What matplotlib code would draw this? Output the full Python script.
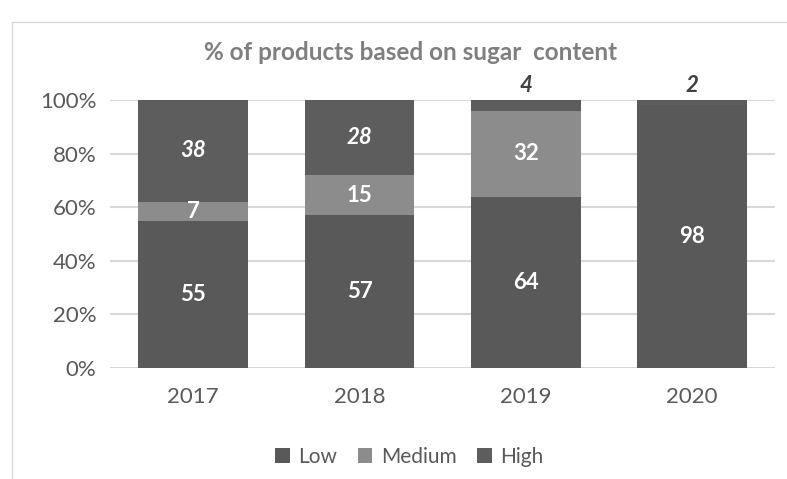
import numpy as np
import matplotlib
matplotlib.use('Agg')
import matplotlib.pyplot as plt
from matplotlib.patches import Rectangle

# ----- Data ------------------------------------------------------------
years = ['2017', '2018', '2019', '2020']
low = [55, 57, 64, 98]
medium = [7, 15, 32, 0]
high = [38, 28, 4, 2]
yticks = [0, 20, 40, 60, 80, 100]

# colours (Excel grey scheme)
c_low = '#595959'
c_med = '#8c8c8c'
c_high = '#5d5d5d'
txt = '#595959'

plt.rcParams['font.family'] = ['Lato', 'DejaVu Sans']

fig = plt.figure(figsize=(7.87, 4.79), dpi=100)
ax = fig.add_axes([0.140, 0.232, 0.845, 0.559])

# light frame round the chart, like the Excel chart area
fig.patches.append(Rectangle((12/787., -0.1), 1.0, 1 - 22/479. + 0.1,
                             transform=fig.transFigure, fill=False,
                             edgecolor='#d9d9d9', linewidth=1.0))

x = np.arange(len(years))
w = 0.66
low_a = np.array(low)
med_a = np.array(medium)
high_a = np.array(high)

ax.bar(x, low_a, w, color=c_low, label='Low', zorder=3)
ax.bar(x, med_a, w, bottom=low_a, color=c_med, label='Medium', zorder=3)
ax.bar(x, high_a, w, bottom=low_a + med_a, color=c_high, label='High', zorder=3)

# labels for each segment
fs = 16
for i in range(len(years)):
    ax.text(x[i], low_a[i]/2., str(low[i]), ha='center', va='center',
            color='white', fontsize=fs, fontweight='bold', zorder=4)
    if medium[i] > 0:
        ax.text(x[i], low_a[i] + med_a[i]/2., str(medium[i]), ha='center',
                va='center', color='white', fontsize=fs, fontweight='bold', zorder=4)
    if high[i] > 10:
        ax.text(x[i], low_a[i] + med_a[i] + high_a[i]/2., str(high[i]),
                ha='center', va='center', color='white', fontsize=fs,
                fontweight='bold', style='italic', zorder=4)
    else:
        ax.text(x[i], 101.5, str(high[i]), ha='center', va='bottom',
                color='#404040', fontsize=fs, fontweight='bold',
                style='italic', zorder=4)

ax.set_xlim(-0.5, 3.5)
ax.set_ylim(0, 100)
ax.set_xticks(x)
ax.set_xticklabels(years)
ax.set_yticks(yticks)
ax.set_yticklabels(['%d%%' % v for v in yticks])
ax.tick_params(axis='both', length=0, labelsize=16, colors=txt)
ax.tick_params(axis='x', pad=14)
ax.tick_params(axis='y', pad=10)
for s in ax.spines.values():
    s.set_visible(False)
ax.yaxis.grid(True, color='#d9d9d9', linewidth=1.5, zorder=0)
ax.set_axisbelow(True)

fig.text(0.522, 1 - 52/479., '% of products based on sugar  content',
         ha='center', va='center', fontsize=17.5, fontweight='bold',
         color='#7f7f7f')

leg = fig.legend(loc='center', bbox_to_anchor=(0.52, 1 - 457/479.), ncol=3,
                 frameon=False, fontsize=15, handlelength=0.7,
                 handleheight=0.7, handletextpad=0.4, columnspacing=1.0)
for t in leg.get_texts():
    t.set_color(txt)

fig.savefig('out.png', dpi=100)
